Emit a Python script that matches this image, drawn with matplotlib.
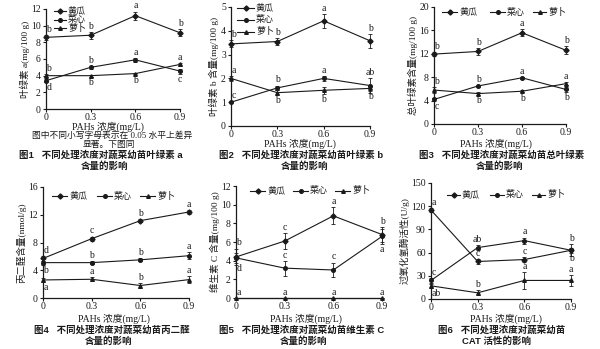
"""Six-panel figure: PAHs concentration effects on vegetable seedlings."""

import matplotlib

matplotlib.use("Agg")
import matplotlib.pyplot as plt
from matplotlib.lines import Line2D

W, H = 600, 349
SERIF = ["Liberation Serif", "Noto Sans CJK SC"]
BOLD = ["Liberation Sans", "Noto Sans CJK SC"]
INK = "#1a1a1a"

CONC = [0, 0.3, 0.6, 0.9]
CROPS = ["黄瓜", "菜心", "萝卜"]

# 叶绿素 a
CHLA_MEAN = {"黄瓜": [8.6, 8.85, 11.2, 9.15], "菜心": [3.4, 5.0, 5.9, 4.55], "萝卜": [4.0, 4.0, 4.25, 5.35]}
CHLA_ERR = {"黄瓜": [0.3, 0.4, 0.5, 0.4], "菜心": [0.2, 0.2, 0.2, 0.3], "萝卜": [0.2, 0.1, 0.1, 0.2]}
CHLA_SIG = {"黄瓜": ["b", "b", "a", "b"], "菜心": ["d", "b", "a", "c"], "萝卜": ["b", "b", "b", "a"]}

# 叶绿素 b
CHLB_MEAN = {"黄瓜": [3.45, 3.55, 4.42, 3.58], "菜心": [1.0, 1.6, 2.0, 1.7], "萝卜": [2.0, 1.4, 1.5, 1.58]}
CHLB_ERR = {"黄瓜": [0.15, 0.15, 0.3, 0.3], "菜心": [0.05, 0.1, 0.1, 0.3], "萝卜": [0.1, 0.1, 0.15, 0.1]}
CHLB_SIG = {"黄瓜": ["b", "b", "a", "b"], "菜心": ["c", "b", "a", "ab"], "萝卜": ["a", "b", "b", "b"]}

# 总叶绿素
CHLT_MEAN = {"黄瓜": [11.95, 12.4, 15.6, 12.6], "菜心": [4.2, 6.5, 7.9, 5.9], "萝卜": [5.8, 5.2, 5.6, 6.9]}
CHLT_ERR = {"黄瓜": [0.3, 0.6, 0.6, 0.7], "菜心": [0.2, 0.2, 0.2, 0.4], "萝卜": [0.5, 0.2, 0.2, 0.3]}
CHLT_SIG = {"黄瓜": ["b", "b", "a", "b"], "菜心": ["c", "b", "a", "b"], "萝卜": ["b", "b", "b", "a"]}

# 丙二醛
MDA_MEAN = {"黄瓜": [5.7, 8.55, 11.15, 12.4], "菜心": [5.1, 5.1, 5.5, 6.1], "萝卜": [2.6, 2.7, 1.8, 2.65]}
MDA_ERR = {"黄瓜": [0.3, 0.3, 0.2, 0.3], "菜心": [0.3, 0.2, 0.2, 0.5], "萝卜": [0.3, 0.3, 0.3, 0.5]}
MDA_SIG = {"黄瓜": ["d", "c", "b", "a"], "菜心": ["b", "b", "b", "a"], "萝卜": ["a", "a", "b", "a"]}

# 维生素 C
VC_MEAN = {"黄瓜": [4.4, 6.1, 8.8, 6.8], "菜心": [4.3, 3.2, 3.0, 6.6], "萝卜": [0, 0, 0, 0]}
VC_ERR = {"黄瓜": [0.9, 0.9, 0.9, 0.8], "菜心": [0.5, 0.8, 0.8, 0.8], "萝卜": [0, 0, 0, 0]}
VC_SIG = {"黄瓜": ["b", "c", "a", "b"], "菜心": ["d", "c", "c", "a"], "萝卜": ["a", "a", "a", "a"]}

# 过氧化氢酶
CAT_MEAN = {"黄瓜": [115, 48.5, 51, 63], "菜心": [24, 66.5, 75.5, 63], "萝卜": [17, 8, 24, 24]}
CAT_ERR = {"黄瓜": [3, 3, 3, 3], "菜心": [3, 3, 4, 8], "萝卜": [3, 3, 11, 7]}
CAT_SIG = {"黄瓜": ["a", "c", "c", "b"], "菜心": ["c", "ab", "a", "b"], "萝卜": ["ab", "b", "a", "a"]}

# where the letters sit: u = above the error bar, d = below
CHLA_POS = {"黄瓜": "uuuu", "菜心": "duud", "萝卜": "uddu"}
CHLB_POS = {"黄瓜": "uuuu", "菜心": "uuuu", "萝卜": "uddd"}
CHLT_POS = {"黄瓜": "uuuu", "菜心": "duud", "萝卜": "uddu"}
MDA_POS = {"黄瓜": "uuuu", "菜心": "duuu", "萝卜": "duuu"}
VC_POS = {"黄瓜": "uuuu", "菜心": "duud", "萝卜": "uuuu"}
CAT_POS = {"黄瓜": "uuud", "菜心": "uuuu", "萝卜": "duuu"}

MARKERS = {"黄瓜": "D", "菜心": "o", "萝卜": "^"}


def px_axes(fig, x0, x1, y0, y1):
    """Add axes from pixel box (y measured from top)."""
    return fig.add_axes([x0 / W, 1 - y1 / H, (x1 - x0) / W, (y1 - y0) / H])


def draw_panel(ax, means, errs, sigs, pos, ymax, ystep, ylabel):
    for crop in CROPS:
        ax.errorbar(CONC, means[crop], yerr=errs[crop], color=INK, lw=0.8,
                    marker=MARKERS[crop], ms=2.6, elinewidth=0.6, capsize=1.5,
                    capthick=0.6, label=crop, clip_on=False, zorder=3)
        for x, y, e, s, p in zip(CONC, means[crop], errs[crop], sigs[crop], pos[crop]):
            up = p != "d"
            ha = "left" if x == 0 else "center"
            ax.annotate(s, (x, y + e if up else y - e), xytext=(0.3 if x == 0 else 0, 0.8 if up else -0.8),
                        textcoords="offset points", ha=ha, va="bottom" if up else "top",
                        fontsize=7, family=SERIF, color=INK, annotation_clip=False)
    ax.set_xlim(0, 0.9)
    ax.set_ylim(0, ymax)
    ax.set_xticks(CONC)
    ax.set_xticklabels(["0", "0.3", "0.6", "0.9"])
    ax.set_yticks(range(0, ymax + 1, ystep))
    for side in ("top", "right"):
        ax.spines[side].set_visible(False)
    for side in ("left", "bottom"):
        ax.spines[side].set_linewidth(0.9)
        ax.spines[side].set_color(INK)
    ax.tick_params(direction="out", length=2.5, width=0.8, pad=1.2, labelsize=7, colors=INK)
    ax.tick_params(axis="x", pad=0.6)
    for lab in ax.get_xticklabels() + ax.get_yticklabels():
        lab.set_family(SERIF)
    ax.set_ylabel(ylabel, family=SERIF, fontsize=6.8, labelpad=1, color=INK)


def legend(fig, keys):
    """Hand-placed legend keys: (handle x0, handle x1, row y) in pixels per crop."""
    for crop, (x0, x1, y) in zip(CROPS, keys):
        yy = 1 - y / H
        fig.add_artist(Line2D([x0 / W, x1 / W], [yy, yy], transform=fig.transFigure,
                              color=INK, lw=0.8))
        fig.add_artist(Line2D([(x0 + x1) / 2 / W], [yy], transform=fig.transFigure,
                              color=INK, marker=MARKERS[crop], ms=2.6, lw=0))
        fig.text((x1 + 2) / W, yy, crop, ha="left", va="center", fontsize=6.5,
                 family=SERIF, color=INK)


def caption(fig, x, y, text, bold=False, size=6.8):
    fig.text(x / W, 1 - y / H, text, ha="center", va="center", fontsize=size,
             family=BOLD if bold else SERIF, weight="bold" if bold else "normal", color=INK)


fig = plt.figure(figsize=(W / 100, H / 100), dpi=100)

ax1 = px_axes(fig, 46, 180, 9, 109)
draw_panel(ax1, CHLA_MEAN, CHLA_ERR, CHLA_SIG, CHLA_POS, 12, 2, "叶绿素 a(mg/100 g)")
legend(fig, [(54, 66, 11), (54, 66, 19.5), (54, 66, 28)])

ax2 = px_axes(fig, 231, 370, 7, 126)
draw_panel(ax2, CHLB_MEAN, CHLB_ERR, CHLB_SIG, CHLB_POS, 5, 1, "叶绿素 b 含量(mg/100 g)")
legend(fig, [(237, 254, 7.5), (237, 254, 19.5), (237, 254, 31.5)])

ax3 = px_axes(fig, 434, 566, 7, 124)
draw_panel(ax3, CHLT_MEAN, CHLT_ERR, CHLT_SIG, CHLT_POS, 20, 4, "总叶绿素含量(mg/100 g)")
legend(fig, [(442, 457, 12), (490, 505, 12), (533, 546, 12)])

ax4 = px_axes(fig, 43, 189, 187, 298)
draw_panel(ax4, MDA_MEAN, MDA_ERR, MDA_SIG, MDA_POS, 16, 4, "丙二醛含量(nmol/g)")
legend(fig, [(52, 67, 196), (97, 112, 196), (140, 155, 196)])

ax5 = px_axes(fig, 236, 382, 186, 298)
draw_panel(ax5, VC_MEAN, VC_ERR, VC_SIG, VC_POS, 12, 2, "维生素 C 含量(mg/100 g)")
legend(fig, [(250, 265, 191), (293, 308, 191), (335, 350, 191)])

ax6 = px_axes(fig, 431, 571, 183, 299)
draw_panel(ax6, CAT_MEAN, CAT_ERR, CAT_SIG, CAT_POS, 150, 30, "过氧化氢酶活性(U/g)")
legend(fig, [(447, 460, 195), (490, 504, 195), (532, 545, 195)])

# x labels
for x, y in [(108, 126.3), (300, 144), (496, 144), (114, 318.5), (306, 318.5), (506, 318.5)]:
    caption(fig, x, y, "PAHs 浓度(mg/L)", size=7)

caption(fig, 112, 135.5, "图中不同小写字母表示在 0.05 水平上差异", size=6.3)
caption(fig, 109, 145.5, "显著。下图同", size=6.3)
caption(fig, 101, 155.5, "图1   不同处理浓度对蔬菜幼苗叶绿素 a", bold=True)
caption(fig, 105, 166, "含量的影响", bold=True)
caption(fig, 301, 155.5, "图2   不同处理浓度对蔬菜幼苗叶绿素 b", bold=True)
caption(fig, 305, 166, "含量的影响", bold=True)
caption(fig, 502, 155.5, "图3   不同处理浓度对蔬菜幼苗总叶绿素", bold=True)
caption(fig, 500, 166, "含量的影响", bold=True)
caption(fig, 112, 330, "图4   不同处理浓度对蔬菜幼苗丙二醛", bold=True)
caption(fig, 109, 341, "含量的影响", bold=True)
caption(fig, 302, 330, "图5   不同处理浓度对蔬菜幼苗维生素 C", bold=True)
caption(fig, 304, 341, "含量的影响", bold=True)
caption(fig, 502, 330, "图6   不同处理浓度对蔬菜幼苗", bold=True)
caption(fig, 496, 341, "CAT 活性的影响", bold=True)

fig.savefig("out.png", dpi=100)
